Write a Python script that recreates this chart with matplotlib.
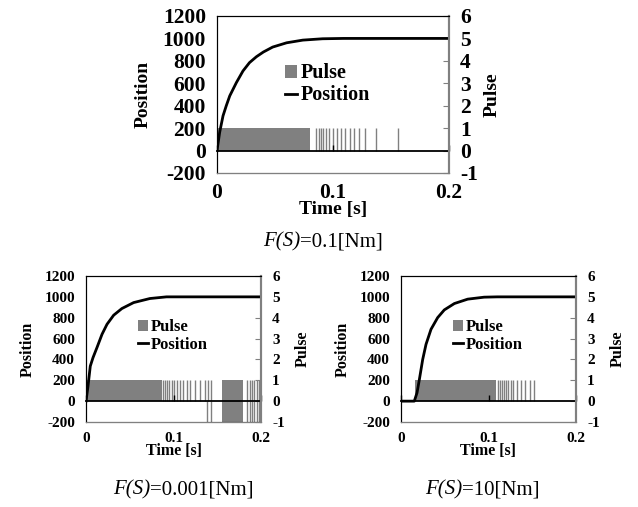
import numpy as np
import matplotlib.pyplot as plt
from matplotlib.patches import Patch
from matplotlib.lines import Line2D

plt.rcParams['font.family'] = ['Liberation Serif', 'DejaVu Serif']
plt.rcParams['font.weight'] = 'bold'
plt.rcParams['axes.labelweight'] = 'bold'
plt.rcParams['axes.unicode_minus'] = False

# ---- data ----
# F(S)=0.1[Nm]
t_01 = [0, 0.0023, 0.0052, 0.008, 0.011, 0.0167, 0.0224, 0.028, 0.034, 0.040,
        0.048, 0.060, 0.074, 0.091, 0.109, 0.2]
pos_01 = [0, 163, 310, 400, 488, 606, 710, 784, 837, 879,
          923, 961, 985, 997, 1000, 1000]
blocks_01 = [(0.0, 0.080, 1)]
pulses_01 = [0.0853, 0.0876, 0.0897, 0.0917, 0.0940, 0.0968, 0.1003, 0.1032,
             0.1066, 0.1101, 0.1147, 0.1184, 0.1224, 0.1276, 0.1368, 0.1557]
neg_pulses_01 = []

# F(S)=0.001[Nm]
t_001 = [0, 0.0023, 0.0049, 0.008, 0.0125, 0.0183, 0.024, 0.0316, 0.041,
         0.0544, 0.073, 0.092, 0.2]
pos_001 = [0, 144, 336, 417, 513, 641, 737, 824, 888, 945, 984, 1000, 1000]
blocks_001 = [(0.0, 0.0865, 1), (0.155, 0.1795, 1), (0.155, 0.1795, -1)]
pulses_001 = [0.0884, 0.0906, 0.0929, 0.0952, 0.0979, 0.1009, 0.1043, 0.1074,
              0.1112, 0.1150, 0.1189, 0.1246, 0.1303, 0.136, 0.139, 0.1425,
              0.184, 0.187, 0.190, 0.192, 0.195, 0.198]
neg_pulses_001 = [0.138, 0.1425, 0.184, 0.187, 0.190, 0.192, 0.195, 0.198]

# F(S)=10[Nm]
t_10 = [0, 0.0152, 0.0183, 0.021, 0.0248, 0.0286, 0.0343, 0.0419, 0.0495,
        0.061, 0.0762, 0.095, 0.110, 0.2]
pos_10 = [0, 0, 80, 208, 400, 545, 689, 801, 875, 936, 978, 997, 1000, 1000]
blocks_10 = [(0.016, 0.109, 1)]
pulses_10 = [0.111, 0.113, 0.1154, 0.1177, 0.120, 0.1226, 0.1253, 0.1283,
             0.1322, 0.1368, 0.1417, 0.1474, 0.152]
neg_pulses_10 = []

pos_ticks = [-200, 0, 200, 400, 600, 800, 1000, 1200]
pulse_ticks = [-1, 0, 1, 2, 3, 4, 5, 6]
time_ticks = [0, 0.1, 0.2]
time_labels = ['0', '0.1', '0.2']

W, H = 638, 507
fig = plt.figure(figsize=(W / 100, H / 100), dpi=100)

GRAY = '#808080'
captions = []


def panel(px_left, px_top, px_w, px_h, t, pos, blocks, pulses, neg_pulses,
          tick_fs, lab_fs, leg_fs, ylab_x, y2lab_x, cap_value, cap_xy, cap_fs):
    ax = fig.add_axes([px_left / W, 1 - (px_top + px_h) / H, px_w / W, px_h / H])
    ax2 = ax.twinx()
    ax.set_zorder(ax2.get_zorder() + 1)
    ax.patch.set_visible(False)

    # pulses on the secondary axis
    for a, b, lvl in blocks:
        ax2.fill_between([a, b], 0, lvl, color=GRAY, lw=0)
    ax2.vlines(pulses, 0, 1, color=GRAY, lw=1)
    if neg_pulses:
        ax2.vlines(neg_pulses, -1, 0, color=GRAY, lw=1)
    ax2.set_ylim(-1, 6)
    ax2.set_yticks(pulse_ticks)
    ax2.tick_params(axis='y', direction='in', length=4, color=GRAY,
                    labelsize=tick_fs, pad=8)
    ax2.set_ylabel('Pulse', fontsize=lab_fs)
    ax2.yaxis.set_label_coords(y2lab_x, 0.5)

    # position curve
    ax.plot(t, pos, color='black', lw=2)
    ax.set_xlim(0, 0.2)
    ax.set_ylim(-200, 1200)
    ax.set_yticks(pos_ticks)
    ax.set_xticks(time_ticks)
    ax.set_xticklabels(time_labels)
    ax.tick_params(axis='y', length=0, labelsize=tick_fs, pad=8)
    ax.tick_params(axis='x', length=0, labelsize=tick_fs, pad=7)
    ax.set_xlabel('Time [s]', fontsize=lab_fs, labelpad=-1)
    ax.set_ylabel('Position', fontsize=lab_fs)
    ax.yaxis.set_label_coords(ylab_x, 0.5)

    # zero line acting as the time axis
    zero = ax.secondary_xaxis(200 / 1400)
    zero.set_xticks(time_ticks)
    zero.tick_params(direction='in', length=4, labelbottom=False, width=1)
    zero.spines['bottom'].set_linewidth(1.3)

    for s in ['top', 'left']:
        ax.spines[s].set_color('black')
    ax.spines['bottom'].set_color(GRAY)
    for a_ in (ax, ax2):
        a_.spines['right'].set_color(GRAY)
        a_.spines['right'].set_linewidth(1.5)

    handles = [Patch(facecolor=GRAY, edgecolor='none'),
               Line2D([], [], color='black', lw=2)]
    ax.legend(handles, ['Pulse', 'Position'], loc='upper left',
              bbox_to_anchor=(0.26, 0.75), frameon=False, fontsize=leg_fs,
              handlelength=0.6, handleheight=0.6, handletextpad=0.15,
              labelspacing=0.1, borderaxespad=0)

    # caption: italic F(S) followed by upright value
    x, y = cap_xy[0] / W, 1 - cap_xy[1] / H
    t1 = fig.text(x, y, 'F(S)', fontsize=cap_fs, fontweight='normal',
                  style='italic', ha='right', va='center')
    t2 = fig.text(x, y, '=' + cap_value + '[Nm]', fontsize=cap_fs,
                  fontweight='normal', ha='left', va='center')
    captions.append((t1, t2, cap_xy[0]))


panel(217, 16, 232, 157, t_01, pos_01, blocks_01, pulses_01, neg_pulses_01,
      15.5, 14, 14.5, -0.28, 1.15, '0.1', (323, 242), 15)
panel(86, 276, 175, 146, t_001, pos_001, blocks_001, pulses_001, neg_pulses_001,
      11, 11.5, 12, -0.29, 1.19, '0.001', (183, 490), 15)
panel(401, 276, 175, 146, t_10, pos_10, blocks_10, pulses_10, neg_pulses_10,
      11, 11.5, 12, -0.29, 1.19, '10', (482, 490), 15)

# centre each two-part caption on its point
fig.canvas.draw()
r = fig.canvas.get_renderer()
for t1, t2, cx in captions:
    w1 = t1.get_window_extent(r).width
    w2 = t2.get_window_extent(r).width
    split = cx - (w1 + w2) / 2 + w1
    t1.set_x(split / W)
    t2.set_x(split / W)

fig.savefig('out.png', dpi=100)
